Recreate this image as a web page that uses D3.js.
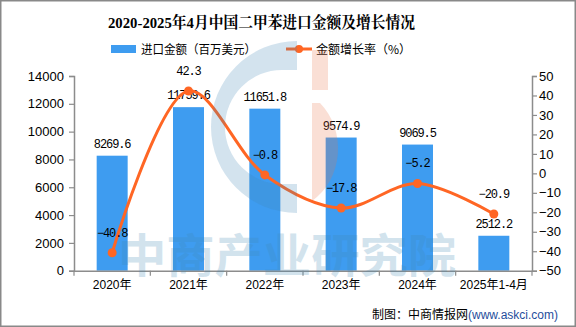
<!DOCTYPE html>
<html><head><meta charset="utf-8">
<script src="https://cdn.jsdelivr.net/npm/d3@7"></script>
<style>
body{margin:0;background:#fff;}
svg{display:block;}
</style></head>
<body>
<svg id="c" width="576" height="327"></svg>
<script>
const categories = ["2020年","2021年","2022年","2023年","2024年","2025年1-4月"];
const amounts = [8269.6, 11759.6, 11651.8, 9574.9, 9069.5, 2512.2];
const growth = [-40.8, 42.3, -0.8, -17.8, -5.2, -20.9];
const leftTicks = [0,2000,4000,6000,8000,10000,12000,14000];
const rightTicks = [-50,-40,-30,-20,-10,0,10,20,30,40,50];
const titleText = "2020-2025年4月中国二甲苯进口金额及增长情况";
const legendBar = "进口金额（百万美元）";
const legendLine = "金额增长率（%）";

const svg = d3.select("#c");
const L = 74, R = 532, T = 76, B = 270.7;
const barColor = "#3e9cf0", lineColor = "#ff6624", axisColor = "#8c8c8c";
const cjk = "'Noto Sans CJK SC', sans-serif";
const mono = "'Liberation Mono', 'DejaVu Sans Mono', monospace";

const x = d3.scaleBand().domain(categories).range([L, R]).paddingInner(0.594).paddingOuter(0.297);
const yL = d3.scaleLinear().domain([0, 14000]).range([B, T]);
const yR = d3.scaleLinear().domain([-50, 50]).range([B, T]);
const step = x.step();

// title
svg.append("text").attr("x", 108).attr("y", 28)
  .attr("font-family", "'Liberation Serif', 'Noto Serif CJK SC', 'Noto Sans CJK SC', serif")
  .attr("font-weight", "bold").attr("font-size", 15.5).attr("fill", "#000")
  .attr("textLength", 307).attr("lengthAdjust", "spacingAndGlyphs")
  .text(titleText);

// legend
svg.append("rect").attr("x", 111).attr("y", 45).attr("width", 25).attr("height", 8).attr("fill", barColor);
svg.append("text").attr("x", 141).attr("y", 54).attr("font-family", cjk).attr("font-size", 12)
  .attr("fill", "#000").attr("textLength", 115).attr("lengthAdjust", "spacingAndGlyphs").text(legendBar);
svg.append("line").attr("x1", 286).attr("x2", 312).attr("y1", 49).attr("y2", 49)
  .attr("stroke", lineColor).attr("stroke-width", 3);
svg.append("circle").attr("cx", 299).attr("cy", 49).attr("r", 4).attr("fill", lineColor);
svg.append("text").attr("x", 316).attr("y", 54).attr("font-family", cjk).attr("font-size", 12)
  .attr("fill", "#000").text(legendLine);

// bars
svg.append("g").selectAll("rect").data(amounts).join("rect")
  .attr("x", (d, i) => x(categories[i]))
  .attr("y", d => yL(d))
  .attr("width", x.bandwidth())
  .attr("height", d => yL(0) - yL(d))
  .attr("fill", barColor);

// left axis
const gL = svg.append("g").attr("transform", `translate(${L},0)`)
  .call(d3.axisLeft(yL).tickValues(leftTicks).tickSize(5).tickPadding(5).tickFormat(d3.format("d")));
// right axis
const gR = svg.append("g").attr("transform", `translate(${R},0)`)
  .call(d3.axisRight(yR).tickValues(rightTicks).tickSize(5).tickPadding(2).tickFormat(d => d < 0 ? "\u2212" + Math.abs(d) : d));
[gL, gR].forEach(g => {
  g.select(".domain").attr("stroke", axisColor).attr("stroke-width", 1.5);
  g.selectAll(".tick line").attr("stroke", axisColor).attr("stroke-width", 1.2);
  g.selectAll(".tick text").attr("font-family", "'Liberation Sans', Arial, sans-serif")
    .attr("font-size", 13).attr("fill", "#000");
});

// x axis
const gX = svg.append("g").attr("transform", `translate(0,${B})`)
  .call(d3.axisBottom(x).tickSize(0).tickPadding(10));
gX.select(".domain").attr("stroke", axisColor).attr("stroke-width", 1.5);
gX.selectAll(".tick text").attr("font-family", "'Liberation Sans', " + cjk).attr("font-size", 12).attr("fill", "#000");
const bounds = categories.map(c => x(c) - step * x.paddingInner() / 2).concat([R]);
svg.append("g").selectAll("line").data(bounds).join("line")
  .attr("x1", d => d).attr("x2", d => d).attr("y1", B).attr("y2", B + 5)
  .attr("stroke", axisColor).attr("stroke-width", 1.2);

// bar labels
svg.append("g").selectAll("text").data(amounts).join("text")
  .attr("x", (d, i) => x(categories[i]) + x.bandwidth() / 2)
  .attr("y", d => yL(d) - 8)
  .attr("text-anchor", "middle").attr("font-family", mono).attr("font-size", 12)
  .attr("letter-spacing", -1.1).attr("fill", "#000")
  .text(d => d.toFixed(1));

// line
const pts = growth.map((g, i) => [x(categories[i]) + x.bandwidth() / 2, yR(g)]);
svg.append("path").datum(pts)
  .attr("d", d3.line().curve(d3.curveCatmullRom.alpha(0.5)))
  .attr("fill", "none").attr("stroke", lineColor).attr("stroke-width", 3);
svg.append("g").selectAll("circle").data(pts).join("circle")
  .attr("cx", d => d[0]).attr("cy", d => d[1]).attr("r", 4.5).attr("fill", lineColor);
svg.append("g").selectAll("text").data(growth).join("text")
  .attr("x", (d, i) => pts[i][0])
  .attr("y", (d, i) => pts[i][1] - 16)
  .attr("text-anchor", "middle").attr("font-family", mono).attr("font-size", 12)
  .attr("letter-spacing", -1.1).attr("fill", "#000")
  .text(d => (d < 0 ? "\u2212" + Math.abs(d).toFixed(1) : d.toFixed(1)));

// watermark (drawn on top, translucent)
const wm = svg.append("g").attr("pointer-events", "none");
const wmBlue = "rgb(66,136,180)", wmPink = "rgb(233,118,75)";
const cx0 = 297, cy0 = 127, ro = 86, ri = 47;
wm.append("path").attr("d",
  `M${cx0},${cy0 - ro} A${ro},${ro} 0 0 0 ${cx0},${cy0 + ro} L${cx0},${cy0 + ri + 10} L${cx0 - 15},${cy0 + ri + 10} ` +
  `A${ri},${ri} 0 0 1 ${cx0 - 15},${cy0 - ri - 10} L${cx0},${cy0 - ri - 10} Z`)
  .attr("fill", wmBlue).attr("opacity", 0.23);
wm.append("path").attr("d",
  `M312,50 L328,50 L328,90 L312,90 Z M312,103 L320,103 A56,62 0 0 1 312,201 Z`)
  .attr("fill", wmPink).attr("opacity", 0.23);
wm.append("text").attr("x", 118).attr("y", 272)
  .attr("font-family", cjk).attr("font-weight", "bold").attr("font-size", 46)
  .attr("textLength", 338).attr("lengthAdjust", "spacingAndGlyphs")
  .attr("fill", wmBlue).attr("opacity", 0.23).text("中商产业研究院");

// footer
const ft = svg.append("text").attr("x", 558).attr("y", 319).attr("text-anchor", "end")
  .attr("font-family", cjk).attr("font-size", 12);
ft.append("tspan").attr("fill", "#000").text("制图：中商情报网");
ft.append("tspan").attr("fill", "#1f4e9c").attr("font-family", "'Liberation Sans', Arial, sans-serif").text("(www.askci.com)");

// border
svg.append("rect").attr("x", 0.5).attr("y", 0.5).attr("width", 575).attr("height", 326)
  .attr("fill", "none").attr("stroke", "#898989").attr("stroke-width", 2);
</script>
</body></html>
